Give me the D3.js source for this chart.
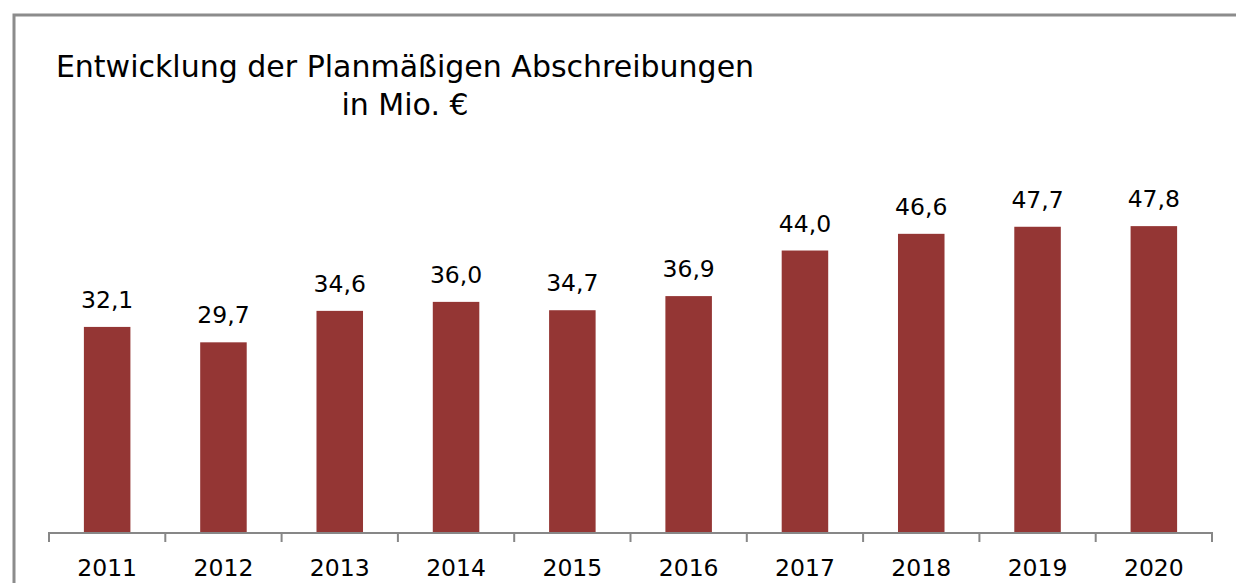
<!DOCTYPE html>
<html>
<head>
	<meta http-equiv="Content-Type" content="text/html;charset=utf-8">
	<title>Planmäßige Abschreibungen</title>
	<script src="https://d3js.org/d3.v7.min.js"></script>
	<style type="text/css">
		body { margin: 0; background: #fff; }
		text { font-family: "DejaVu Sans", sans-serif; fill: #000; }
		.bar { fill: #943634; }
		.axis path, .axis line { stroke: #878787; stroke-width: 2px; }
	</style>
</head>
<body>
	<svg width="1236" height="583"></svg>
	<script type='text/javascript'>
		const years = ['2011', '2012', '2013', '2014', '2015', '2016', '2017', '2018', '2019', '2020'];
		const values = [32.1, 29.7, 34.6, 36.0, 34.7, 36.9, 44.0, 46.6, 47.7, 47.8];
		const titleLines = ['Entwicklung der Planmäßigen Abschreibungen', 'in Mio. €'];

		const svg = d3.select('svg');
		const base = 533;

		// chart frame (runs off the right and bottom edge)
		svg.append('rect')
			.attr('x', 14).attr('y', 15)
			.attr('width', 1300).attr('height', 700)
			.attr('fill', 'none')
			.attr('stroke', '#8c8c8c')
			.attr('stroke-width', 3);

		svg.selectAll('.title').data(titleLines)
			.enter()
			.append('text')
			.attr('class', 'title')
			.attr('x', 405)
			.attr('y', (d, i) => 77 + i * 38)
			.attr('text-anchor', 'middle')
			.style('font-size', '30px')
			.text((d) => d);

		const x = d3.scaleBand().domain(years).range([49, 1212]).paddingInner(0.6).paddingOuter(0.3);
		const y = d3.scaleLinear().domain([0, 50]).range([base, base - 321]);

		svg.selectAll('.bar').data(values)
			.enter()
			.append('rect')
			.attr('class', 'bar')
			.attr('x', (d, i) => x(years[i]))
			.attr('y', (d) => y(d))
			.attr('width', x.bandwidth())
			.attr('height', (d) => base - y(d));

		svg.selectAll('.value').data(values)
			.enter()
			.append('text')
			.attr('class', 'value')
			.attr('x', (d, i) => x(years[i]) + x.bandwidth() / 2)
			.attr('y', (d) => y(d) - 19)
			.attr('text-anchor', 'middle')
			.style('font-size', '23.5px')
			.text((d) => d.toFixed(1).replace('.', ','));

		// axis with ticks between the categories
		const edges = d3.scaleLinear().domain([0, years.length]).range([49, 1212]);
		const axis = svg.append('g').attr('class', 'axis');
		axis.append('path')
			.attr('fill', 'none')
			.attr('d', `M${edges(0)},542V${base}H${edges(years.length)}V542`);
		axis.selectAll('line').data(d3.range(1, years.length))
			.enter()
			.append('line')
			.attr('x1', (d) => edges(d)).attr('x2', (d) => edges(d))
			.attr('y1', base).attr('y2', 542);

		svg.selectAll('.year').data(years)
			.enter()
			.append('text')
			.attr('class', 'year')
			.attr('x', (d) => x(d) + x.bandwidth() / 2)
			.attr('y', 576)
			.attr('text-anchor', 'middle')
			.style('font-size', '23.5px')
			.text((d) => d);
	</script>
</body>
</html>
